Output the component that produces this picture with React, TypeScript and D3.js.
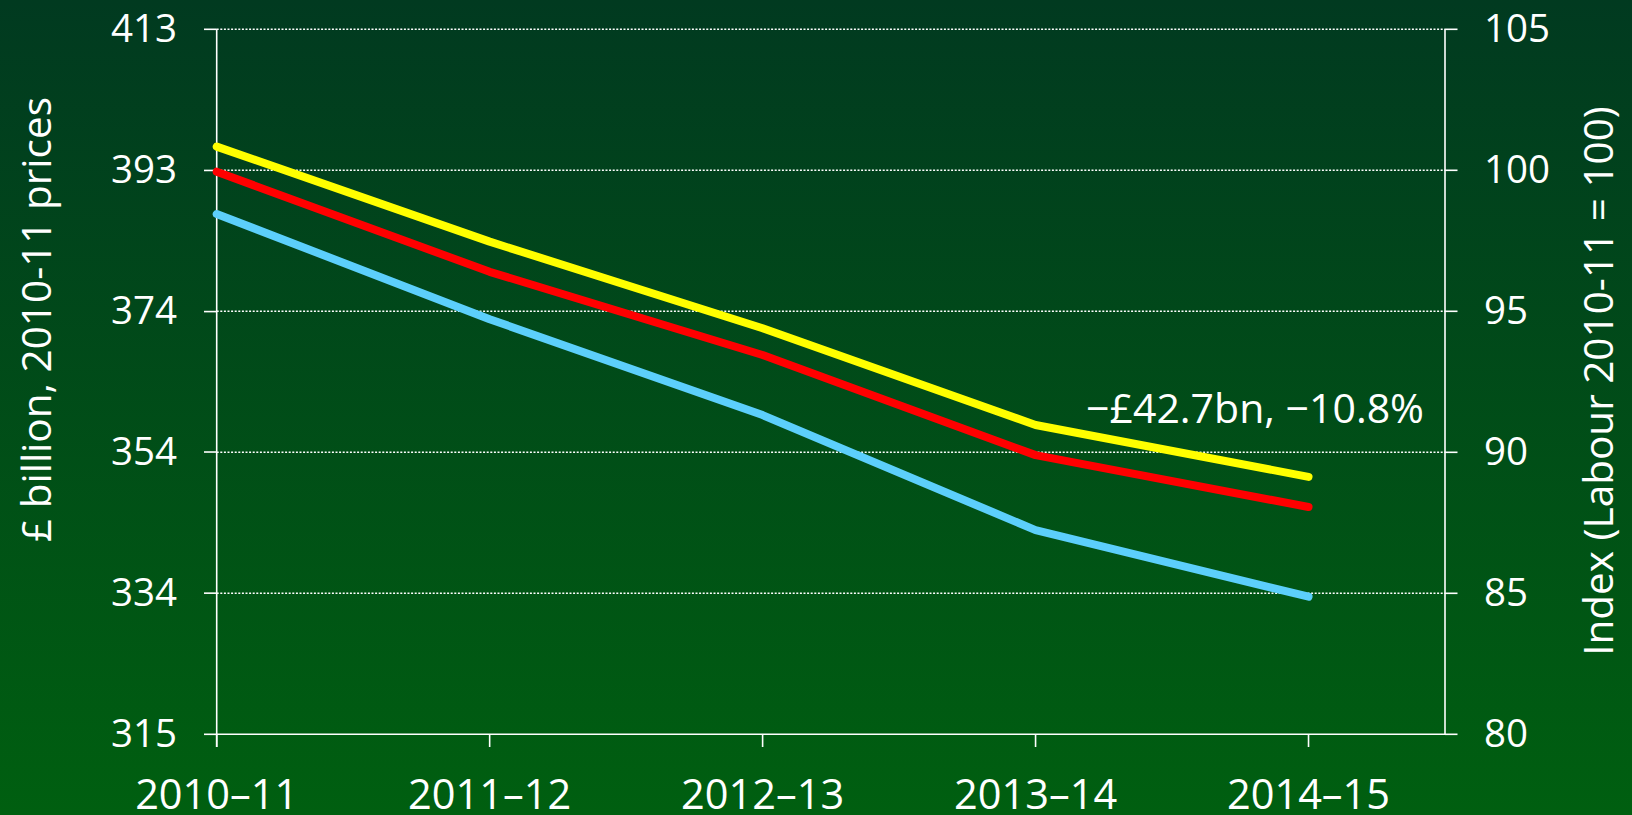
import React from "react";
import * as d3 from "d3";

const categories = ["2010–11", "2011–12", "2012–13", "2013–14", "2014–15"];
const yellowSeries = [100.84, 97.47, 94.4, 90.97, 89.13];
const redSeries = [99.95, 96.4, 93.45, 89.9, 88.06];
const blueSeries = [98.45, 94.72, 91.32, 87.24, 84.88];
const rightTicks = [80, 85, 90, 95, 100, 105];
const leftTicks = [314.7, 334.4, 354.1, 373.7, 393.4, 413.1];
const annotation = "−£42.7bn, −10.8%";
const leftTitle = "£ billion, 2010-11 prices";
const rightTitle = "Index (Labour 2010-11 = 100)";

const W = 1632;
const H = 815;
const FONT = "'Open Sans', 'Noto Sans', sans-serif";

export default function App() {
  const x0 = 216.7;
  const x1 = 1445;
  const yTop = 29.3;
  const yBot = 734.3;
  const x = d3.scaleLinear().domain([0, categories.length - 0.5]).range([x0, x1]);
  const yR = d3.scaleLinear().domain([80, 105]).range([yBot, yTop]);
  const yL = d3.scaleLinear().domain([314.7, 413.1]).range([yBot, yTop]);
  const line = d3
    .line<number>()
    .x((_, i) => x(i))
    .y((v) => yR(v));
  const fmt = d3.format(".0f");
  const series = [
    { data: blueSeries, color: "#5ccffb" },
    { data: redSeries, color: "#ff0000" },
    { data: yellowSeries, color: "#ffff00" },
  ];
  const fs = 38.5;
  const fsCat = 41.5;
  const fsTitle = 40.5;
  return (
    <svg
      width={W}
      height={H}
      style={{ position: "absolute", left: 0, top: 0, display: "block" }}
    >
      <defs>
        <linearGradient id="bg" x1="0" y1="0" x2="0" y2="1">
          <stop offset="0" stopColor="#013a20" />
          <stop offset="1" stopColor="#005f10" />
        </linearGradient>
      </defs>
      <rect x={0} y={0} width={W} height={H} fill="url(#bg)" />
      {rightTicks
        .filter((t) => t !== 80)
        .map((t) => (
          <line
            key={"g" + t}
            x1={x0}
            x2={x1}
            y1={yR(t)}
            y2={yR(t)}
            stroke="#ffffff"
            strokeWidth={1.5}
            strokeDasharray="2,1.6"
          />
        ))}
      <line x1={x0} x2={x0} y1={yTop} y2={yBot + 12.7} stroke="#fff" strokeWidth={1.6} />
      <line x1={x1} x2={x1} y1={yTop} y2={yBot} stroke="#fff" strokeWidth={1.6} />
      <line x1={x0} x2={x1} y1={yBot} y2={yBot} stroke="#fff" strokeWidth={1.6} />
      {leftTicks.map((t) => (
        <g key={"l" + t}>
          <line x1={x0 - 12.7} x2={x0} y1={yL(t)} y2={yL(t)} stroke="#fff" strokeWidth={1.6} />
          <text
            x={177}
            y={yL(t) + 12.5}
            textAnchor="end"
            fill="#fff"
            fontFamily={FONT}
            fontSize={fs}
          >
            {fmt(t)}
          </text>
        </g>
      ))}
      {rightTicks.map((t) => (
        <g key={"r" + t}>
          <line x1={x1} x2={x1 + 12.5} y1={yR(t)} y2={yR(t)} stroke="#fff" strokeWidth={1.6} />
          <text
            x={1484}
            y={yR(t) + 12.5}
            textAnchor="start"
            fill="#fff"
            fontFamily={FONT}
            fontSize={fs}
          >
            {t}
          </text>
        </g>
      ))}
      {categories.map((c, i) => (
        <g key={c}>
          <line x1={x(i)} x2={x(i)} y1={yBot} y2={yBot + 12.7} stroke="#fff" strokeWidth={1.6} />
          <text
            x={x(i)}
            y={809}
            textAnchor="middle"
            fill="#fff"
            fontFamily={FONT}
            fontSize={fsCat}
          >
            {c}
          </text>
        </g>
      ))}
      {series.map((s, i) => (
        <path
          key={i}
          d={line(s.data) || ""}
          fill="none"
          stroke={s.color}
          strokeWidth={8}
          strokeLinejoin="round"
          strokeLinecap="round"
        />
      ))}
      <text
        x={1424}
        y={423}
        textAnchor="end"
        fill="#fff"
        fontFamily={FONT}
        fontSize={41}
      >
        {annotation}
      </text>
      <text
        transform={`translate(51, 319.5) rotate(-90)`}
        textAnchor="middle"
        fill="#fff"
        fontFamily={FONT}
        fontSize={fsTitle}
      >
        {leftTitle}
      </text>
      <text
        transform={`translate(1613, 381) rotate(-90)`}
        textAnchor="middle"
        fill="#fff"
        fontFamily={FONT}
        fontSize={fsTitle}
      >
        {rightTitle}
      </text>
    </svg>
  );
}
